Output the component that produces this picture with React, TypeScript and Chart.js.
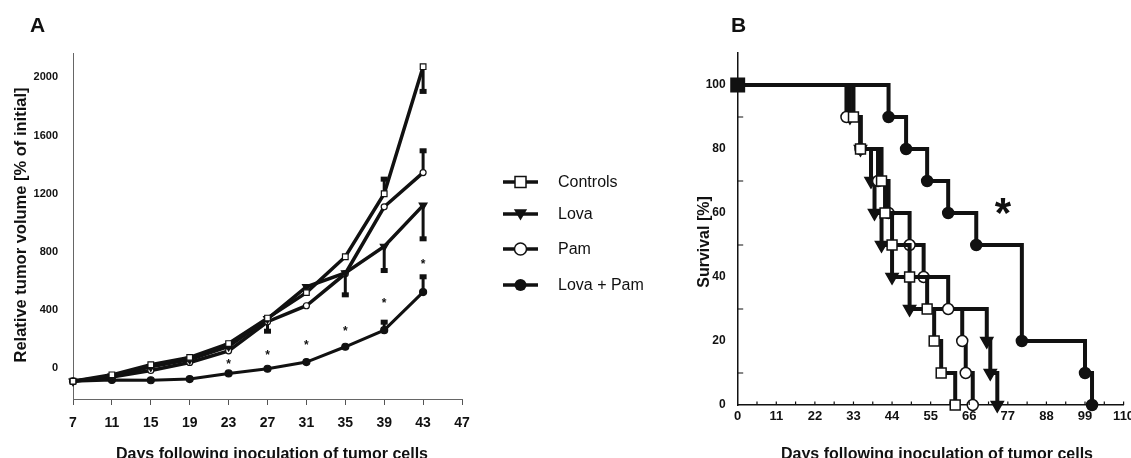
import React, { useEffect, useRef } from "react";
import { Chart, registerables } from "chart.js";
Chart.register(...registerables);

// ---------- Panel A data ----------
const daysA = [7, 11, 15, 19, 23, 27, 31, 35, 39, 43];
const controlsA = [-89, -45, 25, 75, 170, 345, 520, 767, 1200, 2073];
const lovaA = [-89, -55, 10, 60, 150, 340, 560, 655, 837, 1120];
const pamA = [-89, -60, -15, 40, 120, 320, 430, 650, 1110, 1345];
const lovaPamA = [-89, -80, -82, -74, -35, -3, 43, 148, 262, 524];
const controlsErrA = [0, 0, 0, 0, 0, -90, 0, 0, 100, -170];
const lovaErrA = [0, 0, 0, 0, 0, 0, 0, -150, -165, -230];
const pamErrA = [0, 0, 0, 0, 0, 0, 0, 0, 0, 150];
const lovaPamErrA = [0, 0, 0, 0, 0, 0, 0, 0, 55, 105];
const starDaysA = [23, 27, 31, 35, 39, 43];
const starValsA = [46, 105, 173, 270, 462, 733];
const xTicksA = [7, 11, 15, 19, 23, 27, 31, 35, 39, 43, 47];
const yTicksA = [0, 400, 800, 1200, 1600, 2000];
const legendLabels = ["Controls", "Lova", "Pam", "Lova + Pam"];

// ---------- Panel B data ----------
const survS = [100, 90, 80, 70, 60, 50, 40, 30, 20, 10, 0];
const ctrlT = [0, 33, 35, 41, 42, 44, 49, 54, 56, 58, 62];
const lovaT = [0, 32, 35, 38, 39, 41, 44, 49, 71, 72, 74];
const pamT = [0, 31, 35, 40, 43, 49, 53, 60, 64, 65, 67];
const lpT = [0, 43, 48, 54, 60, 68, 81, 99, 101];
const lpS = [100, 90, 80, 70, 60, 50, 20, 10, 0];
const xTicksB = [0, 11, 22, 33, 44, 55, 66, 77, 88, 99, 110];
const yTicksB = [0, 20, 40, 60, 80, 100];
const xMinorB = [5.5, 11, 16.5, 22, 27.5, 33, 38.5, 44, 49.5, 55, 60.5, 66, 71.5, 77, 82.5, 88, 93.5, 99, 104.5, 110];
const yMinorB = [10, 30, 50, 70, 90];

const FONT = '"Liberation Sans", Arial, sans-serif';
const INK = "#111";

function pts(xs: number[], ys: number[]) {
  return xs.map((x, i) => ({ x, y: ys[i] }));
}

function drawMarker(ctx: CanvasRenderingContext2D, kind: string, x: number, y: number, s: number) {
  ctx.save();
  ctx.lineWidth = 1.5;
  ctx.strokeStyle = INK;
  ctx.beginPath();
  if (kind === "square") {
    ctx.rect(x - s, y - s, 2 * s, 2 * s);
    ctx.fillStyle = "#fff";
    ctx.fill();
    ctx.stroke();
  } else if (kind === "tri") {
    ctx.moveTo(x - s * 1.1, y - s * 0.8);
    ctx.lineTo(x + s * 1.1, y - s * 0.8);
    ctx.lineTo(x, y + s * 1.1);
    ctx.closePath();
    ctx.fillStyle = INK;
    ctx.fill();
  } else if (kind === "ocircle") {
    ctx.arc(x, y, s, 0, Math.PI * 2);
    ctx.fillStyle = "#fff";
    ctx.fill();
    ctx.stroke();
  } else {
    ctx.arc(x, y, s, 0, Math.PI * 2);
    ctx.fillStyle = INK;
    ctx.fill();
  }
  ctx.restore();
}

const panelAPlugin = {
  id: "panelA",
  beforeDatasetsDraw(chart: any) {
    const { ctx, scales } = chart;
    const x = scales.x, y = scales.y;
    const series = [controlsA, lovaA, pamA, lovaPamA];
    const errs = [controlsErrA, lovaErrA, pamErrA, lovaPamErrA];
    ctx.save();
    ctx.strokeStyle = INK;
    ctx.fillStyle = INK;
    ctx.lineWidth = 3;
    series.forEach((s, si) => {
      s.forEach((v, i) => {
        const e = errs[si][i];
        if (!e) return;
        const px = x.getPixelForValue(daysA[i]);
        const y0 = y.getPixelForValue(v);
        const y1 = y.getPixelForValue(v + e);
        ctx.beginPath();
        ctx.moveTo(px, y0);
        ctx.lineTo(px, y1);
        ctx.stroke();
        ctx.fillRect(px - 3.5, y1 - 2.5, 7, 5);
      });
    });
    ctx.restore();
  },
  afterDraw(chart: any) {
    const { ctx, scales } = chart;
    const x = scales.x, y = scales.y;
    ctx.save();
    ctx.fillStyle = INK;
    // asterisks
    ctx.font = `bold 12px ${FONT}`;
    ctx.textAlign = "center";
    ctx.textBaseline = "alphabetic";
    starDaysA.forEach((d, i) => {
      ctx.fillText("*", x.getPixelForValue(d), y.getPixelForValue(starValsA[i]) + 6);
    });
    // panel letter
    ctx.font = `bold 21px ${FONT}`;
    ctx.textAlign = "left";
    ctx.fillText("A", 30, 32);
    // x title
    ctx.font = `bold 16px ${FONT}`;
    ctx.textAlign = "center";
    ctx.fillText("Days following inoculation of tumor cells", 272, 459);
    // y title
    ctx.save();
    ctx.translate(21, 225);
    ctx.rotate(-Math.PI / 2);
    ctx.font = `bold 16.5px ${FONT}`;
    ctx.textBaseline = "middle";
    ctx.fillText("Relative tumor volume [% of initial]", 0, 0);
    ctx.restore();
    // legend
    const rows = [182, 214, 249, 285];
    const kinds = ["square", "tri", "ocircle", "fcircle"];
    const sizes = [5.5, 6, 6, 6];
    rows.forEach((ry, i) => {
      ctx.save();
      ctx.strokeStyle = INK;
      ctx.lineWidth = 3.5;
      ctx.beginPath();
      ctx.moveTo(503, ry);
      ctx.lineTo(538, ry);
      ctx.stroke();
      ctx.restore();
      drawMarker(ctx, kinds[i], 520.5, ry, sizes[i]);
      ctx.font = `16px ${FONT}`;
      ctx.textAlign = "left";
      ctx.textBaseline = "middle";
      ctx.fillStyle = INK;
      ctx.fillText(legendLabels[i], 558, ry + 1);
    });
    ctx.restore();
  },
};

const panelBPlugin = {
  id: "panelB",
  afterDraw(chart: any) {
    const { ctx, scales, chartArea } = chart;
    const x = scales.x, y = scales.y;
    ctx.save();
    ctx.strokeStyle = INK;
    ctx.lineWidth = 1.2;
    ctx.beginPath();
    xMinorB.forEach((d) => {
      const px = x.getPixelForValue(d);
      ctx.moveTo(px, chartArea.bottom);
      ctx.lineTo(px, chartArea.bottom - 3.5);
    });
    yMinorB.forEach((v) => {
      const py = y.getPixelForValue(v);
      ctx.moveTo(chartArea.left, py);
      ctx.lineTo(chartArea.left + 5.5, py);
    });
    ctx.stroke();
    ctx.fillStyle = INK;
    ctx.font = `bold 21px ${FONT}`;
    ctx.textAlign = "left";
    ctx.textBaseline = "alphabetic";
    ctx.fillText("B", 41, 32);
    ctx.font = `bold 16px ${FONT}`;
    ctx.textAlign = "center";
    ctx.fillText("Days following inoculation of tumor cells", 247, 459);
    ctx.save();
    ctx.translate(15, 242);
    ctx.rotate(-Math.PI / 2);
    ctx.textBaseline = "middle";
    ctx.font = `bold 16px ${FONT}`;
    ctx.fillText("Survival [%]", 0, 0);
    ctx.restore();
    ctx.font = `bold 42px ${FONT}`;
    ctx.textAlign = "center";
    ctx.fillText("*", 313, 227);
    ctx.restore();
  },
};

function lineA(label: string, data: number[], style: string, fill: string, radius: number, rot = 0, width = 3.5) {
  return {
    label,
    data: pts(daysA, data),
    borderColor: INK,
    borderWidth: width,
    pointStyle: style,
    pointRotation: rot,
    pointRadius: radius,
    pointBackgroundColor: fill,
    pointBorderColor: INK,
    pointBorderWidth: 1.2,
    tension: 0,
    clip: false,
  };
}

function lineB(label: string, xs: number[], ys: number[], style: string, fill: string, radius: number, rot = 0, first = 0) {
  return {
    label,
    data: pts(xs, ys),
    borderColor: INK,
    borderWidth: 4,
    stepped: true,
    pointStyle: style,
    pointRotation: rot,
    pointRadius: (c: any) => (c.dataIndex === 0 ? first : radius),
    pointBackgroundColor: (c: any) => (c.dataIndex === 0 ? INK : fill),
    pointBorderColor: INK,
    pointBorderWidth: 1.5,
    tension: 0,
    clip: false,
  };
}

export default function App() {
  const refA = useRef<HTMLCanvasElement>(null);
  const refB = useRef<HTMLCanvasElement>(null);

  useEffect(() => {
    const tickFont = { family: FONT, size: 13, weight: "bold" as const };
    const plain = (v: any) => String(v);
    const a = new Chart(refA.current!, {
      type: "line",
      data: {
        datasets: [
          lineA("Controls", controlsA, "rect", "#fff", 4),
          lineA("Lova", lovaA, "triangle", INK, 4.5, 180),
          lineA("Pam", pamA, "circle", "#fff", 3),
          lineA("Lova + Pam", lovaPamA, "circle", INK, 3.5, 0, 3),
        ] as any,
      },
      options: {
        responsive: false,
        animation: false,
        devicePixelRatio: 1,
        layout: { padding: { left: 0, top: 53, right: 228, bottom: 0 } },
        plugins: { legend: { display: false }, tooltip: { enabled: false } },
        scales: {
          x: {
            type: "linear",
            min: 7,
            max: 47,
            afterBuildTicks: (s: any) => {
              s.ticks = xTicksA.map((v) => ({ value: v }));
            },
            afterFit: (s: any) => {
              s.height = 59;
            },
            grid: { display: true, drawOnChartArea: false, drawTicks: true, tickLength: 6, color: "#555", lineWidth: 1 },
            border: { display: true, color: "#666", width: 1 },
            ticks: { font: { family: FONT, size: 14, weight: "bold" }, color: INK, padding: 10, maxRotation: 0, autoSkip: false, callback: plain },
          },
          y: {
            type: "linear",
            min: -211,
            max: 2167,
            afterBuildTicks: (s: any) => {
              s.ticks = yTicksA.map((v) => ({ value: v }));
            },
            afterFit: (s: any) => {
              s.width = 73;
            },
            grid: { display: false, drawTicks: false },
            border: { display: true, color: "#666", width: 1 },
            ticks: {
              font: { family: FONT, size: 11, weight: "bold" },
              color: INK,
              padding: 15,
              callback: plain,
            },
          },
        },
      } as any,
      plugins: [panelAPlugin],
    });

    const b = new Chart(refB.current!, {
      type: "line",
      data: {
        datasets: [
          lineB("Controls", ctrlT, survS, "rect", "#fff", 7, 0, 9.5),
          lineB("Pam", pamT, survS, "circle", "#fff", 5.5),
          lineB("Lova", lovaT, survS, "triangle", INK, 7, 180),
          lineB("Lova + Pam", lpT, lpS, "circle", INK, 5.5),
        ] as any,
      },
      options: {
        responsive: false,
        animation: false,
        devicePixelRatio: 1,
        layout: { padding: { left: 0, top: 53, right: 26.4, bottom: 0 } },
        plugins: { legend: { display: false }, tooltip: { enabled: false } },
        scales: {
          x: {
            type: "linear",
            min: 0,
            max: 110,
            afterBuildTicks: (s: any) => {
              s.ticks = xTicksB.map((v) => ({ value: v }));
            },
            afterFit: (s: any) => {
              s.height = 53;
            },
            grid: { display: false, drawTicks: false },
            border: { display: true, color: INK, width: 1.5 },
            ticks: { font: tickFont, color: INK, padding: 4, maxRotation: 0, autoSkip: false, callback: plain },
          },
          y: {
            type: "linear",
            min: 0,
            max: 110,
            afterBuildTicks: (s: any) => {
              s.ticks = yTicksB.map((v) => ({ value: v }));
            },
            afterFit: (s: any) => {
              s.width = 47.7;
            },
            grid: { display: false, drawTicks: false },
            border: { display: true, color: INK, width: 1.5 },
            ticks: { font: { family: FONT, size: 12, weight: "bold" }, color: INK, padding: 12, callback: plain },
          },
        },
      } as any,
      plugins: [panelBPlugin],
    });

    return () => {
      a.destroy();
      b.destroy();
    };
  }, []);

  return (
    <div
      style={{
        position: "fixed",
        left: 0,
        top: 0,
        width: 1131,
        height: 458,
        overflow: "hidden",
        background: "#fff",
      }}
    >
      <canvas ref={refA} width={690} height={458} style={{ position: "absolute", left: 0, top: 0, width: 690, height: 458 }} />
      <canvas ref={refB} width={460} height={458} style={{ position: "absolute", left: 690, top: 0, width: 460, height: 458 }} />
    </div>
  );
}
